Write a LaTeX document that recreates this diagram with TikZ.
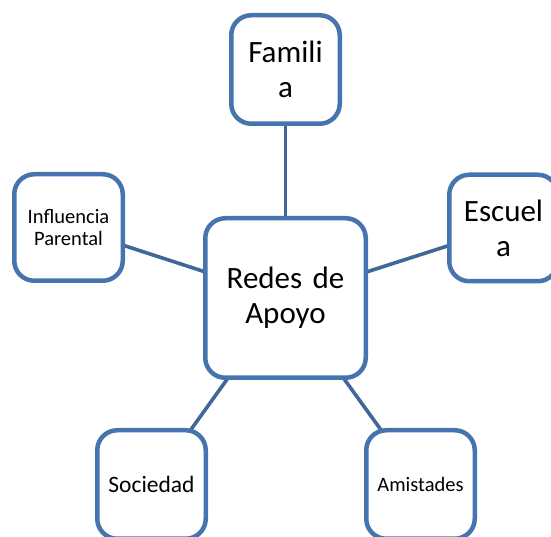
\documentclass[tikz,border=0pt]{standalone}
\usepackage{fontspec}
\setmainfont{Carlito}
\usetikzlibrary{backgrounds}
\definecolor{boxblue}{HTML}{4674AE}
\definecolor{lineblue}{HTML}{3F6898}
\tikzset{
  box/.style={draw=boxblue, line width=4.5pt, fill=white, rounded corners=20pt,
    minimum width=108.5pt, minimum height=106.5pt, inner sep=0pt, align=center, text width=100pt},
  bigtxt/.style={font=\fontsize{31}{35}\selectfont},
  smalltxt/.style={font=\fontsize{20.5}{22}\selectfont},
  link/.style={draw=lineblue, line width=3.6pt}
}
\begin{document}
\begin{tikzpicture}[x=1pt,y=1pt]
\useasboundingbox (0,0) rectangle (551,537);
\node[box, bigtxt, minimum width=160.5pt, minimum height=159.5pt, text width=150pt] (redes) at (285.5,239) {\raisebox{-3pt}{Redes de}\\\raisebox{-3pt}{Apoyo}};
\node[box, bigtxt, minimum height=108.5pt] (familia) at (285.5,467.5) {Famili\\a};
\node[box, smalltxt] (influencia) at (68.5,309.5) {Influencia\\Parental};
\node[box, bigtxt] (escuela) at (503.5,309) {Escuel\\a};
\node[box, font=\fontsize{23.5}{26}\selectfont, minimum height=108.5pt] (sociedad) at (151.5,52.5) {Sociedad};
\node[box, smalltxt, minimum height=108.5pt] (amistades) at (420.5,52.5) {Amistades};
\begin{scope}[on background layer]
\draw[link] (redes.center) -- (familia.center);
\draw[link] (redes.center) -- (influencia.center);
\draw[link] (redes.center) -- (escuela.center);
\draw[link] (redes.center) -- (sociedad.center);
\draw[link] (redes.center) -- (amistades.center);
\end{scope}
\end{tikzpicture}
\end{document}
